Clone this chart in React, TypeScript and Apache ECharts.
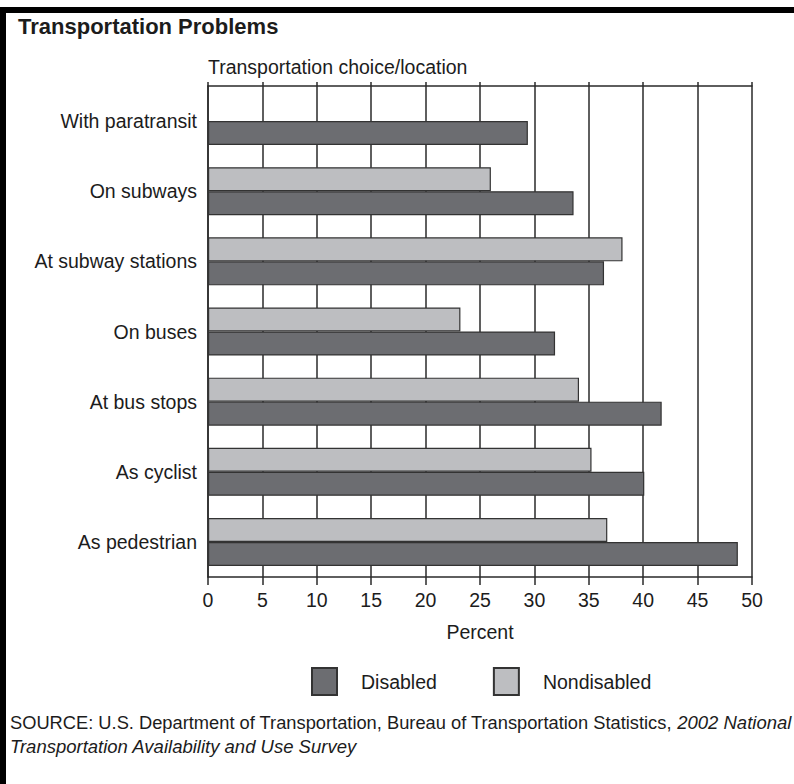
import React, { useEffect, useRef } from "react";
import * as echarts from "echarts";

const categories = [
  "With paratransit",
  "On subways",
  "At subway stations",
  "On buses",
  "At bus stops",
  "As cyclist",
  "As pedestrian",
];
const disabled = [29.4, 33.6, 36.4, 31.9, 41.7, 40.1, 48.7];
const nondisabled = [null, 26.0, 38.1, 23.2, 34.1, 35.25, 36.7];
const seriesNames = ["Disabled", "Nondisabled"];
const xTicks = { min: 0, max: 50, interval: 5 };

const FONT = "'Liberation Sans', Arial, Helvetica, sans-serif";
const TXT = "#1c1c1c";

export default function App() {
  const ref = useRef<HTMLDivElement>(null);
  useEffect(() => {
    document.body.style.margin = "0";
    const chart = echarts.init(ref.current!, null, { renderer: "svg" });
    const gridLine = { color: "#2a2a2a", width: 1.5 };
    chart.setOption({
      animation: false,
      backgroundColor: "#ffffff",
      textStyle: { fontFamily: FONT },
      grid: { left: 208, right: 42, top: 86, bottom: 207, containLabel: false },
      legend: {
        data: seriesNames,
        left: 311,
        top: 667,
        padding: 0,
        itemWidth: 25,
        itemHeight: 27,
        itemGap: 56,
        icon: "rect",
        selectedMode: false,
        textStyle: { fontSize: 19.5, color: TXT, fontFamily: FONT, padding: [0, 0, 0, 19] },
      },
      xAxis: [
        {
          type: "value",
          position: "bottom",
          min: xTicks.min,
          max: xTicks.max,
          interval: xTicks.interval,
          name: "Percent",
          nameLocation: "middle",
          nameGap: 45,
          nameTextStyle: { fontSize: 19.5, color: TXT, fontFamily: FONT },
          axisLine: { show: true, lineStyle: gridLine },
          axisTick: { show: true, length: 8, lineStyle: gridLine },
          axisLabel: { fontSize: 19.5, color: TXT, margin: 13, fontFamily: FONT },
          splitLine: { show: true, lineStyle: gridLine },
        },
        {
          type: "value",
          position: "top",
          min: xTicks.min,
          max: xTicks.max,
          interval: xTicks.interval,
          axisLine: { show: true, lineStyle: gridLine },
          axisTick: { show: true, length: 4, lineStyle: gridLine },
          axisLabel: { show: false },
          splitLine: { show: false },
        },
      ],
      yAxis: {
        type: "category",
        inverse: true,
        data: categories,
        axisLine: { show: true, lineStyle: gridLine },
        axisTick: { show: false },
        axisLabel: { fontSize: 19.5, color: TXT, margin: 11, fontFamily: FONT },
      },
      series: [
        {
          name: "Nondisabled",
          type: "bar",
          data: nondisabled,
          barWidth: 24,
          barGap: "0%",
          itemStyle: { color: "#bdbec1", borderColor: "#333333", borderWidth: 1.2 },
        },
        {
          name: "Disabled",
          type: "bar",
          data: disabled,
          barWidth: 24,
          barGap: "0%",
          itemStyle: { color: "#6c6d71", borderColor: "#333333", borderWidth: 1.2 },
        },
      ],
      graphic: [
        { type: "rect", shape: { x: 0, y: 7, width: 794, height: 6 }, style: { fill: "#000" } },
        { type: "rect", shape: { x: 0, y: 7, width: 6, height: 777 }, style: { fill: "#000" } },
        {
          type: "text",
          left: 18,
          top: 15,
          style: { text: "Transportation Problems", font: `bold 22px ${FONT}`, fill: TXT },
        },
        {
          type: "text",
          left: 208,
          top: 57,
          style: { text: "Transportation choice/location", font: `19.5px ${FONT}`, fill: TXT },
        },
        {
          type: "text",
          left: 10,
          top: 710,
          style: {
            text: "{n|SOURCE: U.S. Department of Transportation, Bureau of Transportation Statistics, }{i|2002 National}\n{i|Transportation Availability and Use Survey}",
            lineHeight: 24,
            rich: {
              n: { font: `18.3px ${FONT}`, fill: TXT, lineHeight: 24 },
              i: { font: `italic 18.5px ${FONT}`, fill: TXT, lineHeight: 24 },
            },
          },
        },
      ],
    });
    return () => chart.dispose();
  }, []);
  return <div ref={ref} style={{ width: 794, height: 784 }} />;
}
